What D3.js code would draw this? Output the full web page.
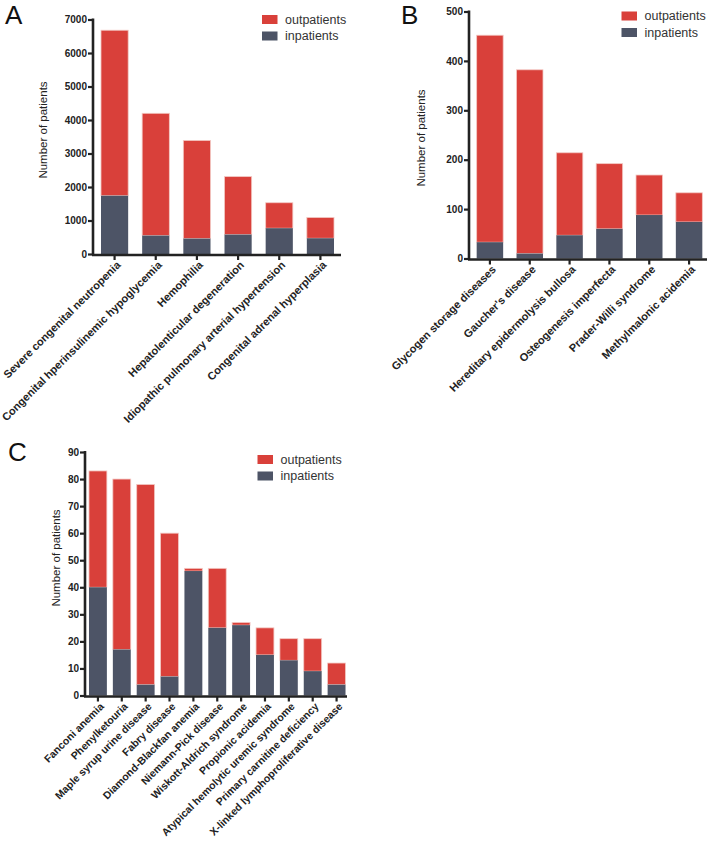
<!DOCTYPE html>
<html>
<head>
<meta charset="utf-8">
<script src="https://cdn.jsdelivr.net/npm/d3@7"></script>
<style>
  html, body { margin: 0; padding: 0; background: #fff; }
  svg { display: block; }
  .tick text { font-family: "Liberation Sans", Arial, sans-serif; font-weight: bold; font-size: 10px; fill: #222; }
</style>
</head>
<body>
<svg id="chart" width="709" height="841"></svg>
<script>
// ---- Data ----
const categoriesA = ["Severe congenital neutropenia", "Congenital hperinsulinemic hypoglycemia", "Hemophilia",
  "Hepatolenticular degeneration", "Idiopathic pulmonary arterial hypertension", "Congenital adrenal hyperplasia"];
const inpatientsA = [1740, 550, 460, 580, 770, 470];
const totalA = [6680, 4200, 3390, 2310, 1530, 1090];
const ticksA = [0, 1000, 2000, 3000, 4000, 5000, 6000, 7000];

const categoriesB = ["Glycogen storage diseases", "Gaucher's disease", "Hereditary epidermolysis bullosa",
  "Osteogenesis imperfecta", "Prader-Willi syndrome", "Methylmalonic acidemia"];
const inpatientsB = [33, 10, 47, 60, 88, 74];
const totalB = [452, 382, 214, 192, 169, 133];
const ticksB = [0, 100, 200, 300, 400, 500];

const categoriesC = ["Fanconi anemia", "Phenylketouria", "Maple syrup urine disease", "Fabry disease",
  "Diamond-Blackfan anemia", "Niemann-Pick disease", "Wiskott-Aldrich syndrome", "Propionic acidemia",
  "Atypical hemolytic uremic syndrome", "Primary carnitine deficiency", "X-linked lymphoproliferative disease"];
const inpatientsC = [40, 17, 4, 7, 46, 25, 26, 15, 13, 9, 4];
const totalC = [83, 80, 78, 60, 47, 47, 27, 25, 21, 21, 12];
const ticksC = [0, 10, 20, 30, 40, 50, 60, 70, 80, 90];

const seriesNames = ["outpatients", "inpatients"];
const colors = { outpatients: "#d9403a", inpatients: "#4d5466" };

const svg = d3.select("#chart");

function panel(cfg) {
  const g = svg.append("g");
  const x = d3.scaleBand().domain(cfg.cats).range(cfg.xr).paddingInner(cfg.pad).paddingOuter(cfg.pad / 2);
  const y = d3.scaleLinear().domain([0, cfg.ymax]).range(cfg.yr);
  const rows = cfg.cats.map((c, i) => ({ cat: c, inp: cfg.inp[i], tot: cfg.tot[i] }));

  g.selectAll("rect.out").data(rows).join("rect")
    .attr("class", "out")
    .attr("x", d => x(d.cat)).attr("width", x.bandwidth())
    .attr("y", d => y(d.tot)).attr("height", d => y(d.inp) - y(d.tot))
    .attr("fill", colors.outpatients)
    .attr("stroke", "#f3c9c4").attr("stroke-width", 0.8);
  g.selectAll("rect.in").data(rows).join("rect")
    .attr("class", "in")
    .attr("x", d => x(d.cat)).attr("width", x.bandwidth())
    .attr("y", d => y(d.inp)).attr("height", d => y(0) - y(d.inp))
    .attr("fill", colors.inpatients);

  const yAx = g.append("g").attr("transform", `translate(${cfg.xr[0] - 1},0)`)
    .call(d3.axisLeft(y).tickValues(cfg.ticks).tickSize(5).tickPadding(1).tickFormat(d3.format("d")));
  yAx.select(".domain").attr("stroke", "#222").attr("stroke-width", 2.6)
    .attr("d", `M0,${cfg.yr[1] - 1}V${cfg.yr[0] + 1}`);
  yAx.selectAll(".tick line").attr("stroke", "#222").attr("stroke-width", 2.2);

  const xAx = g.append("g").attr("transform", `translate(0,${cfg.yr[0] + 1})`)
    .call(d3.axisBottom(x).tickSize(5).tickFormat(""));
  xAx.select(".domain").attr("stroke", "#222").attr("stroke-width", 2.6)
    .attr("d", `M${cfg.xr[0] - 2},0H${cfg.xend}`);
  xAx.selectAll(".tick line").attr("stroke", "#222").attr("stroke-width", 2.2);
  xAx.selectAll(".tick").append("text")
    .attr("transform", "translate(4,8) rotate(-45)")
    .attr("text-anchor", "end")
    .attr("dy", "0.35em")
    .style("font-size", cfg.labelSize + "px")
    .text(d => d);

  g.append("text")
    .attr("transform", `translate(${cfg.titleX},${cfg.titleY}) rotate(-90)`)
    .attr("text-anchor", "middle")
    .style("font-family", "'Liberation Sans', Arial, sans-serif")
    .style("font-size", "11.5px").style("fill", "#222")
    .text("Number of patients");

  g.append("text").attr("x", cfg.letterX).attr("y", cfg.letterY)
    .style("font-family", "'Liberation Sans', Arial, sans-serif").style("font-size", "26px").style("fill", "#111")
    .text(cfg.letter);

  const lg = g.append("g").attr("transform", `translate(${cfg.legX},${cfg.legY})`);
  seriesNames.forEach((s, i) => {
    lg.append("rect").attr("x", 0).attr("y", i * 16.5).attr("width", 15.5).attr("height", 9)
      .attr("fill", colors[s]);
    lg.append("text").attr("x", 23).attr("y", i * 16.5 + 8.5)
      .style("font-family", "'Liberation Sans', Arial, sans-serif").style("font-size", "12.5px").style("fill", "#333")
      .text(s);
  });
}

panel({ cats: categoriesA, inp: inpatientsA, tot: totalA, ticks: ticksA, ymax: 7000,
  xr: [94, 341], yr: [254, 19.5], xend: 341, pad: 0.34, labelSize: 11,
  titleX: 47, titleY: 130, letter: "A", letterX: 5, letterY: 24, legX: 262, legY: 15 });

panel({ cats: categoriesB, inp: inpatientsB, tot: totalB, ticks: ticksB, ymax: 500,
  xr: [470, 709], yr: [258.5, 11.5], xend: 707, pad: 0.335, labelSize: 11,
  titleX: 425, titleY: 138, letter: "B", letterX: 401, letterY: 24, legX: 621.5, legY: 11.5 });

panel({ cats: categoriesC, inp: inpatientsC, tot: totalC, ticks: ticksC, ymax: 90,
  xr: [86, 348.5], yr: [695.5, 452], xend: 347, pad: 0.25, labelSize: 10.5,
  titleX: 60, titleY: 558, letter: "C", letterX: 8, letterY: 461, legX: 257.5, legY: 455 });
</script>
</body>
</html>
